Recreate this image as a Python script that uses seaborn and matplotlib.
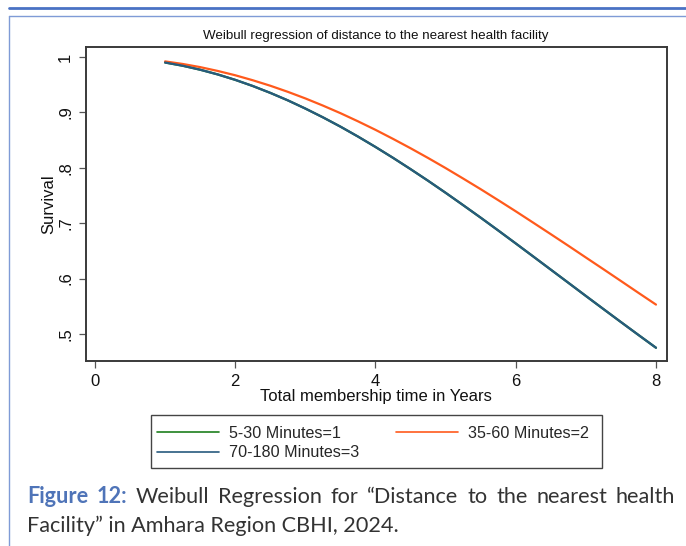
import matplotlib
matplotlib.use("Agg")
import matplotlib.pyplot as plt
import pandas as pd
import seaborn as sns
from matplotlib.lines import Line2D
from matplotlib.patches import Rectangle

# Predicted survival from the Weibull model, by distance group
years = [1.0, 1.25, 1.5, 1.75, 2.0, 2.25, 2.5, 2.75, 3.0, 3.25, 3.5, 3.75, 4.0, 4.25,
         4.5, 4.75, 5.0, 5.25, 5.5, 5.75, 6.0, 6.25, 6.5, 6.75, 7.0, 7.25, 7.5, 7.75, 8.0]
surv_5_30 = [0.9900, 0.9842, 0.9770, 0.9685, 0.9587, 0.9476, 0.9352, 0.9217, 0.9069,
             0.8911, 0.8743, 0.8564, 0.8376, 0.8180, 0.7976, 0.7766, 0.7549, 0.7326,
             0.7100, 0.6869, 0.6635, 0.6399, 0.6162, 0.5925, 0.5687, 0.5451, 0.5216,
             0.4983, 0.4752]
surv_35_60 = [0.9920, 0.9874, 0.9817, 0.9748, 0.9670, 0.9580, 0.9481, 0.9371, 0.9252,
              0.9123, 0.8986, 0.8839, 0.8685, 0.8522, 0.8353, 0.8177, 0.7995, 0.7806,
              0.7614, 0.7416, 0.7215, 0.7009, 0.6802, 0.6593, 0.6381, 0.6170, 0.5957,
              0.5743, 0.5531]
surv_70_180 = [0.9900, 0.9842, 0.9770, 0.9685, 0.9587, 0.9476, 0.9352, 0.9217, 0.9069,
               0.8911, 0.8743, 0.8564, 0.8376, 0.8180, 0.7976, 0.7766, 0.7549, 0.7326,
               0.7100, 0.6869, 0.6635, 0.6399, 0.6162, 0.5925, 0.5687, 0.5451, 0.5216,
               0.4983, 0.4752]

group_labels = ["5-30 Minutes=1", "35-60 Minutes=2", "70-180 Minutes=3"]
group_colors = ["#1e7f1e", "#ff5a1c", "#275a7e"]

x_ticks = [0, 2, 4, 6, 8]
y_ticks = [0.5, 0.6, 0.7, 0.8, 0.9, 1.0]
y_tick_labels = [".5", ".6", ".7", ".8", ".9", "1"]

title_text = "Weibull regression of distance to the nearest health facility"
x_title = "Total membership time in Years"
y_title = "Survival"

caption_line1 = [("Figure", True), ("12:", True), ("Weibull", False), ("Regression", False),
                 ("for", False), ("\u201cDistance", False), ("to", False), ("the", False),
                 ("nearest", False), ("health", False)]
caption_line2 = "Facility\u201d in Amhara Region CBHI, 2024."

df = pd.DataFrame({
    "years": years * 3,
    "survival": surv_5_30 + surv_35_60 + surv_70_180,
    "group": [group_labels[0]] * len(years) + [group_labels[1]] * len(years)
             + [group_labels[2]] * len(years),
})

sns.set_theme(style="white")
plt.rcParams["font.family"] = ["Liberation Sans", "DejaVu Sans"]

W, H = 686, 546
fig = plt.figure(figsize=(W / 100, H / 100), dpi=100)
fig.patch.set_facecolor("white")


def fx(px):
    return px / W


def fy(py):
    return 1 - py / H


ax = fig.add_axes([fx(85.5), fy(361), fx(666.5) - fx(85.5), fy(47) - fy(361)])
sns.lineplot(data=df, x="years", y="survival", hue="group", hue_order=group_labels,
             palette=group_colors, linewidth=1.6, legend=False, ax=ax)

ax.set_xlim(-0.135, 8.15)
ax.set_ylim(0.4513, 1.018)
ax.set_xticks(x_ticks)
ax.set_xticklabels([str(v) for v in x_ticks])
ax.set_yticks(y_ticks)
ax.set_yticklabels(y_tick_labels, rotation=90, va="center")
ax.tick_params(axis="both", direction="out", length=5, width=0.9, color="#555555",
               labelsize=12, labelcolor="#111111", bottom=True, left=True)
ax.tick_params(axis="x", pad=4)
ax.tick_params(axis="y", pad=4)
for s in ax.spines.values():
    s.set_color("#3a3a3a")
    s.set_linewidth(1.4)
    s.set_visible(True)

ax.set_xlabel(x_title, fontsize=12, color="#111111", labelpad=0)
ax.set_ylabel(y_title, fontsize=12, color="#111111", labelpad=1)
ax.set_title(title_text, fontsize=9.6, color="#111111", pad=6)

# Legend: frame drawn as a patch, entries placed row by row
handles = [Line2D([], [], color=c, linewidth=1.2) for c in group_colors]
order = [0, 2, 1]
fig.patches.append(Rectangle((fx(151), fy(468)), fx(602) - fx(151), fy(415) - fy(468),
                             transform=fig.transFigure, fill=False,
                             edgecolor="#444444", linewidth=1.0))
fig.legend([handles[i] for i in order], [group_labels[i] for i in order],
           loc="upper left", bbox_to_anchor=(fx(151), fy(420)), ncol=2,
           frameon=False, fontsize=11.6, handlelength=3.85, handletextpad=0.62,
           columnspacing=2.3, labelspacing=0.3, borderpad=0.35, borderaxespad=0)

# Page decoration lines
blue = "#4a72c4"
fig.add_artist(Line2D([fx(9), 1], [fy(8), fy(8)], color=blue, linewidth=2.0,
                      transform=fig.transFigure))
fig.add_artist(Line2D([fx(9), 1], [fy(16), fy(16)], color="#7f9bd6", linewidth=1.0,
                      transform=fig.transFigure))
fig.add_artist(Line2D([fx(9), fx(9)], [fy(16), 0], color="#7f9bd6", linewidth=1.0,
                      transform=fig.transFigure))

# Caption: first line justified between the margins, second line left aligned
cap_font = ["Lato", "DejaVu Sans"]
cap_size = 15.6
fig.canvas.draw()
renderer = fig.canvas.get_renderer()
word_texts = []
for word, is_head in caption_line1:
    t = fig.text(0, fy(503), word, family=cap_font, fontsize=cap_size,
                 fontweight="bold" if is_head else "normal",
                 color="#4f74b8" if is_head else "#333333", va="baseline", ha="left")
    word_texts.append(t)
widths = [t.get_window_extent(renderer).width for t in word_texts]
left, right = 27, 675
gap = (right - left - sum(widths)) / (len(widths) - 1)
xpos = left
for t, w in zip(word_texts, widths):
    t.set_x(fx(xpos))
    xpos += w + gap
fig.text(fx(27), fy(532), caption_line2, family=cap_font, fontsize=cap_size,
         color="#333333", va="baseline", ha="left")

fig.savefig("out.png", dpi=100)
